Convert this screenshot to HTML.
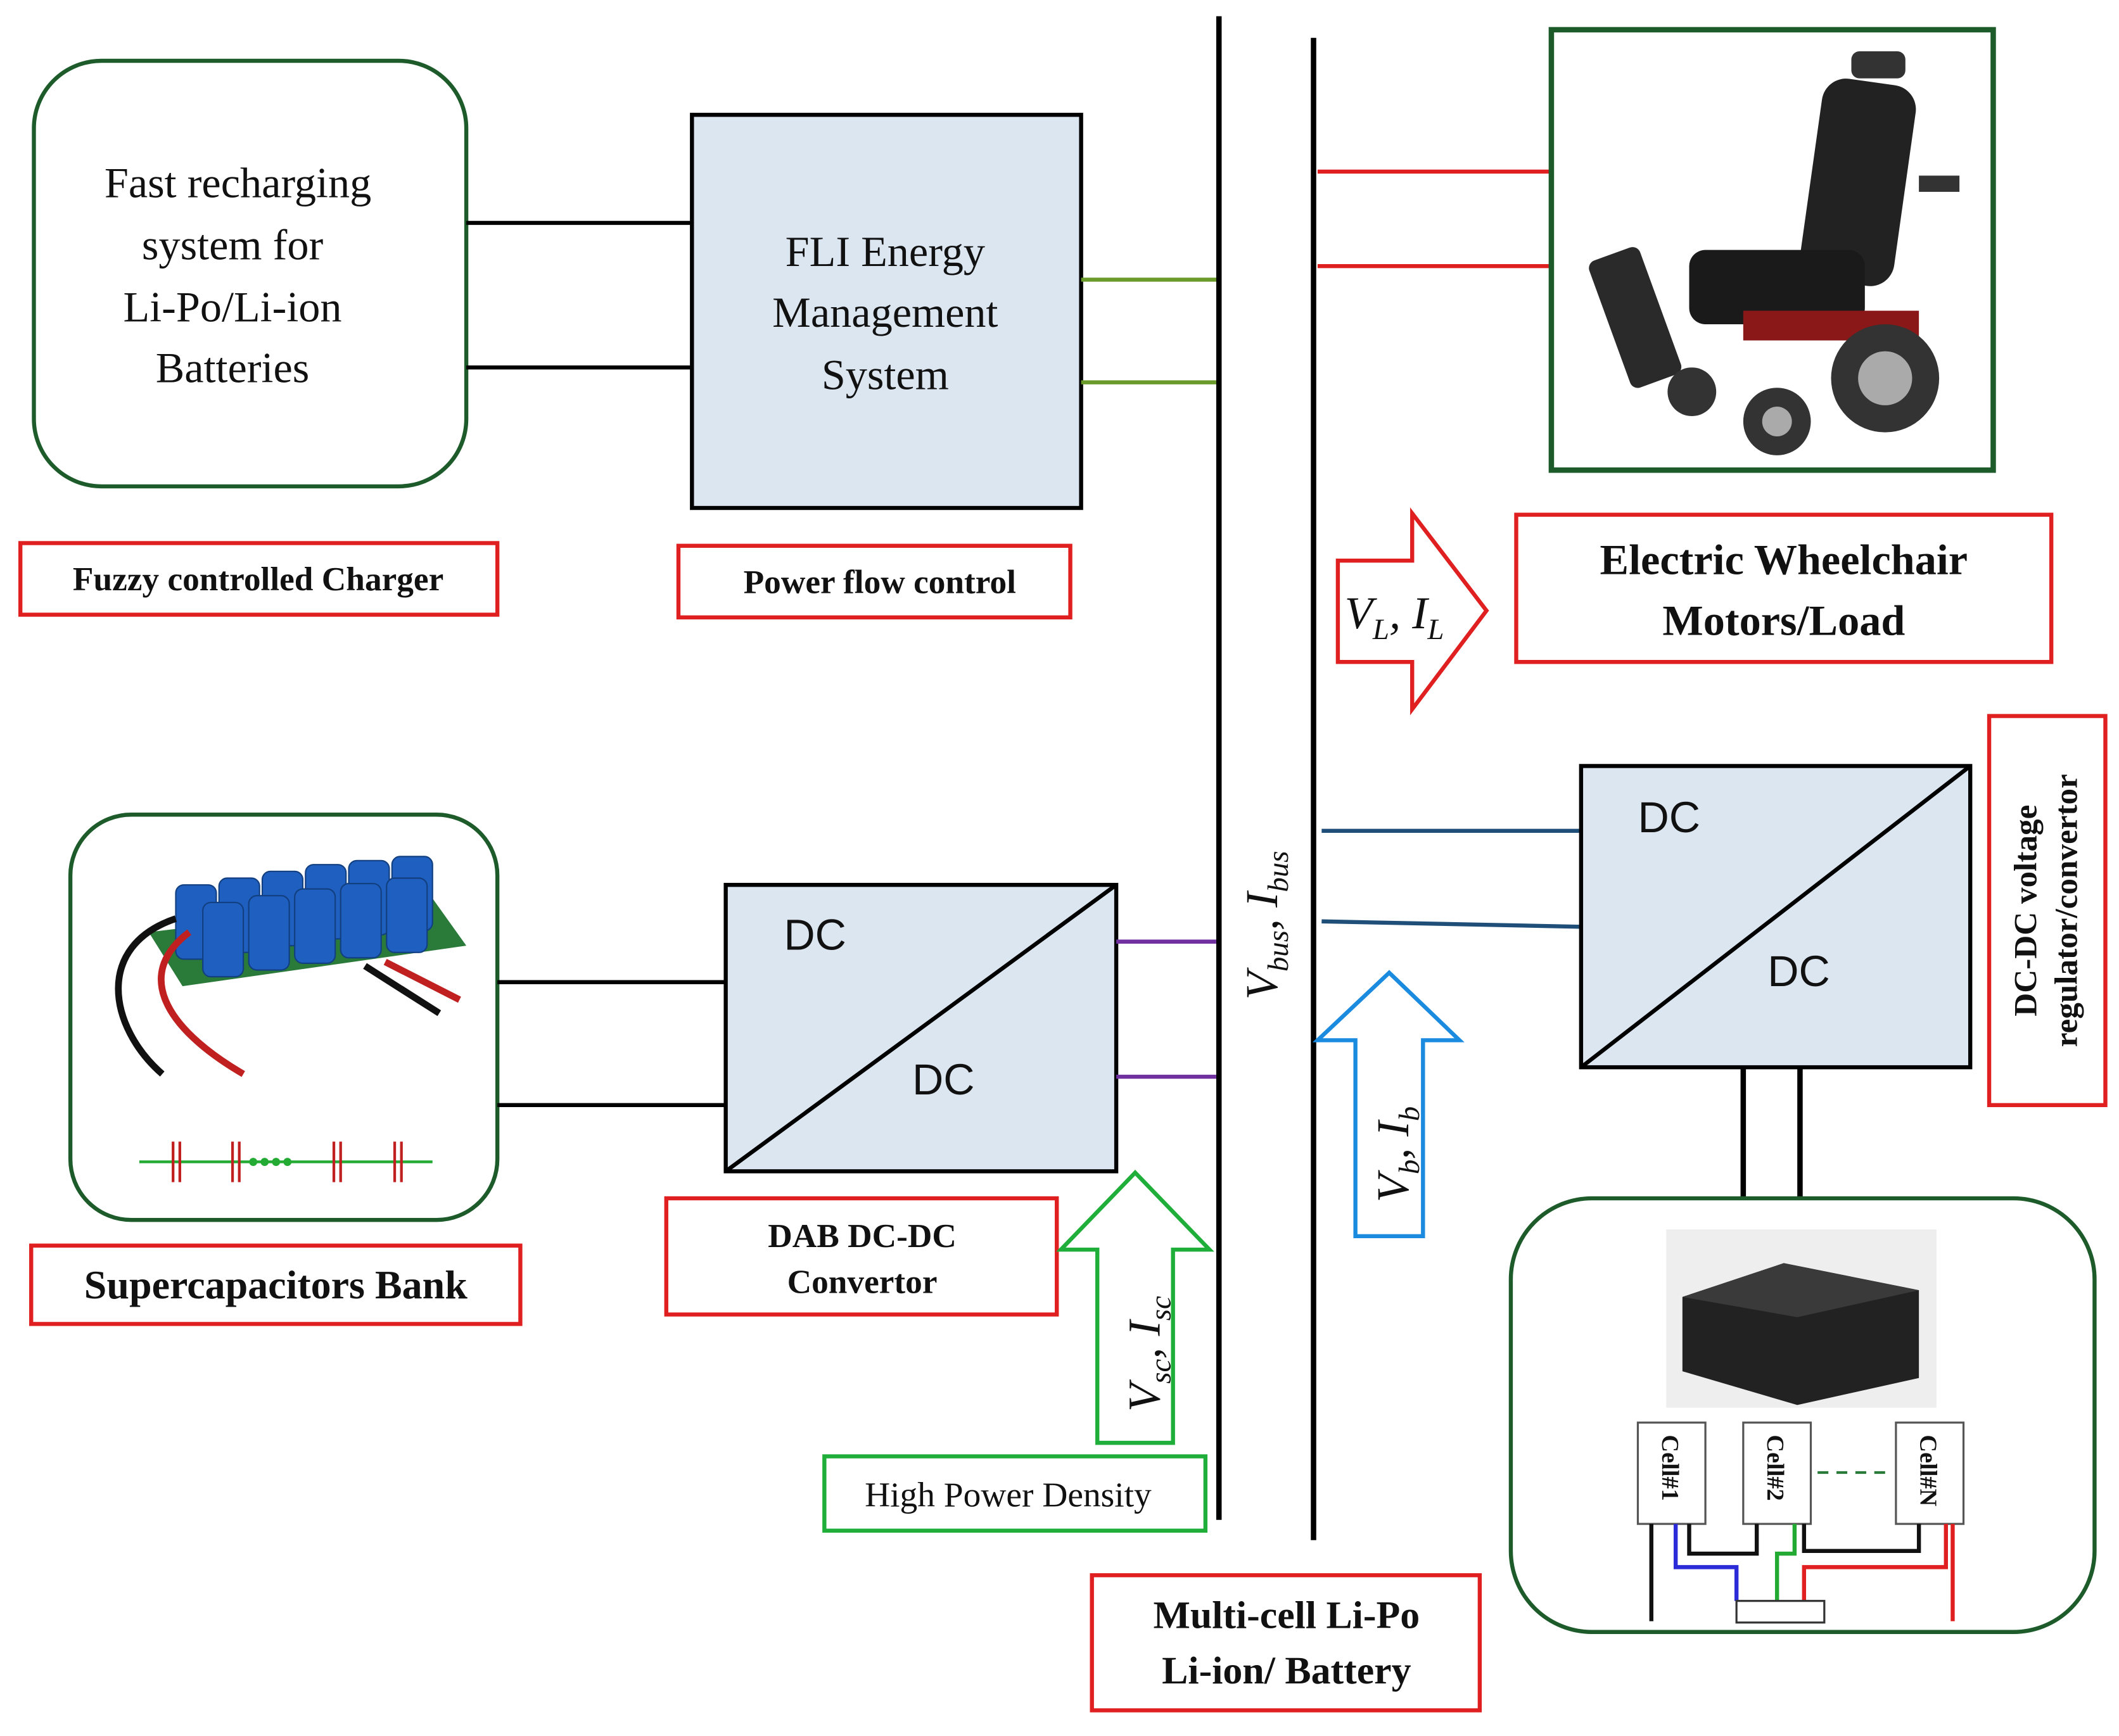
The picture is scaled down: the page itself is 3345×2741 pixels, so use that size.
<!DOCTYPE html>
<html><head><meta charset="utf-8"><style>
html,body{margin:0;padding:0;background:#fff;}
svg{display:block;}
</style></head><body>
<svg width="3345" height="2741" viewBox="0 0 1568 1285" xmlns="http://www.w3.org/2000/svg" font-family="Liberation Serif, serif">
<rect width="1568" height="1285" fill="#fff"/>
<!-- Box 1 -->
<rect x="25" y="45" width="320" height="315" rx="50" fill="#fff" stroke="#1d5b2b" stroke-width="3"/>
<g font-size="32" text-anchor="middle" fill="#111">
<text x="176" y="146">Fast recharging</text>
<text x="172" y="192">system for</text>
<text x="172" y="238">Li-Po/Li-ion</text>
<text x="172" y="283">Batteries</text>
</g>
<line x1="345" y1="165" x2="512" y2="165" stroke="#000" stroke-width="3"/>
<line x1="345" y1="272" x2="512" y2="272" stroke="#000" stroke-width="3"/>
<rect x="512" y="85" width="288" height="291" fill="#dce6f1" stroke="#000" stroke-width="3"/>
<g font-size="32" text-anchor="middle" fill="#111">
<text x="655" y="197">FLI Energy</text>
<text x="655" y="242">Management</text>
<text x="655" y="288">System</text>
</g>
<line x1="800" y1="207" x2="900" y2="207" stroke="#6a9a2a" stroke-width="3"/>
<line x1="800" y1="283" x2="900" y2="283" stroke="#6a9a2a" stroke-width="3"/>
<!-- bus -->
<line x1="902" y1="12" x2="902" y2="1125" stroke="#000" stroke-width="4"/>
<line x1="972" y1="28" x2="972" y2="1140" stroke="#000" stroke-width="4"/>
<line x1="975" y1="127" x2="1148" y2="127" stroke="#e02020" stroke-width="3"/>
<line x1="975" y1="197" x2="1148" y2="197" stroke="#e02020" stroke-width="3"/>
<!-- wheelchair box -->
<rect x="1148" y="22" width="327" height="326" fill="#fff" stroke="#1d5b2b" stroke-width="4"/>
<g>
<rect x="1340" y="60" width="70" height="150" rx="18" fill="#222" transform="rotate(8 1375 135)"/>
<rect x="1370" y="38" width="40" height="20" rx="6" fill="#333"/>
<rect x="1250" y="185" width="130" height="55" rx="12" fill="#1a1a1a"/>
<rect x="1190" y="185" width="40" height="100" rx="6" fill="#2a2a2a" transform="rotate(-20 1210 235)"/>
<rect x="1290" y="230" width="130" height="22" fill="#8a1818"/>
<circle cx="1395" cy="280" r="40" fill="#333"/><circle cx="1395" cy="280" r="20" fill="#aaa"/>
<circle cx="1315" cy="312" r="25" fill="#333"/><circle cx="1315" cy="312" r="11" fill="#aaa"/>
<circle cx="1252" cy="290" r="18" fill="#333"/>
<rect x="1420" y="130" width="30" height="12" fill="#333"/>
</g>
<!-- red labels -->
<g font-size="25" font-weight="bold" fill="#111" text-anchor="middle">
<rect x="15" y="402" width="353" height="53" fill="#fff" stroke="#e02020" stroke-width="3"/>
<text x="191" y="437">Fuzzy controlled Charger</text>
<rect x="502" y="404" width="290" height="53" fill="#fff" stroke="#e02020" stroke-width="3"/>
<text x="651" y="439">Power flow control</text>
<rect x="1122" y="381" width="396" height="109" fill="#fff" stroke="#e02020" stroke-width="3"/>
<text x="1320" y="425" font-size="32">Electric Wheelchair</text>
<text x="1320" y="470" font-size="32">Motors/Load</text>
<rect x="23" y="922" width="362" height="58" fill="#fff" stroke="#e02020" stroke-width="3"/>
<text x="204" y="961" font-size="30">Supercapacitors Bank</text>
<rect x="493" y="887" width="289" height="86" fill="#fff" stroke="#e02020" stroke-width="3"/>
<text x="638" y="923">DAB  DC-DC</text>
<text x="638" y="957">Convertor</text>
<rect x="808" y="1166" width="287" height="100" fill="#fff" stroke="#e02020" stroke-width="3"/>
<text x="952" y="1205" font-size="29">Multi-cell Li-Po</text>
<text x="952" y="1246" font-size="29">Li-ion/ Battery</text>
<rect x="1472" y="530" width="86" height="288" fill="#fff" stroke="#e02020" stroke-width="3"/>
<g transform="translate(1515 674) rotate(-90)"><text x="0" y="-8" font-size="24">DC-DC voltage</text><text x="0" y="22" font-size="24">regulator/convertor</text></g>
</g>
<rect x="610" y="1078" width="282" height="55" fill="#fff" stroke="#1fae3a" stroke-width="3"/>
<text x="746" y="1115" font-size="26" text-anchor="middle" fill="#111">High Power Density</text>
<!-- red arrow -->
<path d="M990 415 H1045 V380 L1100 452 L1045 525 V490 H990 Z" fill="#fff" stroke="#e02020" stroke-width="3"/>
<text x="995" y="465" font-size="34" font-style="italic" fill="#111">V<tspan font-size="22" dy="8">L</tspan><tspan dy="-8">, I</tspan><tspan font-size="22" dy="8">L</tspan></text>
<!-- right DC-DC -->
<line x1="978" y1="615" x2="1170" y2="615" stroke="#1f4e79" stroke-width="3"/>
<line x1="978" y1="682" x2="1170" y2="686" stroke="#1f4e79" stroke-width="3"/>
<rect x="1170" y="567" width="288" height="223" fill="#dce6f1" stroke="#000" stroke-width="3"/>
<line x1="1170" y1="790" x2="1458" y2="567" stroke="#000" stroke-width="3"/>
<g font-family="Liberation Sans, sans-serif" font-size="32" fill="#111">
<text x="1212" y="616">DC</text><text x="1308" y="730">DC</text>
</g>
<line x1="1290" y1="790" x2="1290" y2="887" stroke="#000" stroke-width="4"/>
<line x1="1332" y1="790" x2="1332" y2="887" stroke="#000" stroke-width="4"/>
<!-- blue arrow -->
<path d="M1003 915 V770 H975 L1028 720 L1080 770 H1053 V915 Z" fill="#fff" stroke="#1b8be0" stroke-width="3"/>
<text transform="translate(1042 890) rotate(-90)" font-size="34" font-style="italic" fill="#111">V<tspan font-size="22" dy="8">b</tspan><tspan dy="-8">, I</tspan><tspan font-size="22" dy="8">b</tspan></text>
<text transform="translate(945 740) rotate(-90)" font-size="34" font-style="italic" fill="#111">V<tspan font-size="22" dy="8">bus</tspan><tspan dy="-8">, I</tspan><tspan font-size="22" dy="8">bus</tspan></text>
<!-- battery box -->
<rect x="1118" y="887" width="432" height="321" rx="60" fill="#fff" stroke="#1d5b2b" stroke-width="3"/>
<rect x="1233" y="910" width="200" height="132" fill="#eee"/>
<path d="M1245 960 L1320 935 L1420 955 L1420 1020 L1330 1040 L1245 1015 Z" fill="#222"/>
<path d="M1245 960 L1320 935 L1420 955 L1330 975 Z" fill="#3a3a3a"/>
<g fill="#fff" stroke="#555" stroke-width="1.5">
<rect x="1212" y="1053" width="50" height="75"/><rect x="1290" y="1053" width="50" height="75"/><rect x="1403" y="1053" width="50" height="75"/>
</g>
<g font-size="18" font-weight="bold" fill="#111">
<text transform="translate(1230 1062) rotate(90)">Cell#1</text>
<text transform="translate(1308 1062) rotate(90)">Cell#2</text>
<text transform="translate(1421 1062) rotate(90)">Cell#N</text>
</g>
<line x1="1345" y1="1090" x2="1400" y2="1090" stroke="#2a7a3a" stroke-width="2" stroke-dasharray="8 6"/>
<path d="M1222 1128 V1200" stroke="#111" stroke-width="3" fill="none"/>
<path d="M1240 1128 V1160 H1285 V1185" stroke="#2b2bd8" stroke-width="3" fill="none"/>
<path d="M1250 1128 V1150 H1300 V1128" stroke="#111" stroke-width="3" fill="none"/>
<path d="M1328 1128 V1150 H1315 V1185" stroke="#22aa33" stroke-width="3" fill="none"/>
<path d="M1335 1128 V1148 H1420 V1128" stroke="#111" stroke-width="3" fill="none"/>
<path d="M1440 1128 V1160 H1335 V1185" stroke="#e02020" stroke-width="3" fill="none"/>
<path d="M1445 1128 V1200" stroke="#e02020" stroke-width="3" fill="none"/>
<rect x="1285" y="1185" width="65" height="16" fill="#fff" stroke="#333" stroke-width="1.5"/>
<!-- supercap box -->
<rect x="52" y="603" width="316" height="300" rx="45" fill="#fff" stroke="#1d5b2b" stroke-width="3"/>
<path d="M110 690 L320 665 L345 700 L135 730 Z" fill="#2a7a3a"/>
<g fill="#1f5fbf" stroke="#123f80" stroke-width="1">
<rect x="130" y="655" width="30" height="55" rx="6"/><rect x="162" y="650" width="30" height="55" rx="6"/><rect x="194" y="645" width="30" height="55" rx="6"/><rect x="226" y="640" width="30" height="55" rx="6"/><rect x="258" y="637" width="30" height="55" rx="6"/><rect x="290" y="634" width="30" height="55" rx="6"/>
<rect x="150" y="668" width="30" height="55" rx="6"/><rect x="184" y="663" width="30" height="55" rx="6"/><rect x="218" y="658" width="30" height="55" rx="6"/><rect x="252" y="654" width="30" height="55" rx="6"/><rect x="286" y="650" width="30" height="55" rx="6"/>
</g>
<path d="M130 680 C70 700 80 760 120 795" stroke="#111" stroke-width="5" fill="none"/>
<path d="M140 690 C100 720 120 760 180 795" stroke="#c02020" stroke-width="5" fill="none"/>
<path d="M270 715 L325 750" stroke="#111" stroke-width="5"/>
<path d="M285 712 L340 740" stroke="#c02020" stroke-width="5"/>
<g stroke="#22aa33" stroke-width="2"><line x1="103" y1="860" x2="320" y2="860"/></g>
<g stroke="#c02020" stroke-width="2">
<line x1="128" y1="845" x2="128" y2="875"/><line x1="133" y1="845" x2="133" y2="875"/>
<line x1="172" y1="845" x2="172" y2="875"/><line x1="177" y1="845" x2="177" y2="875"/>
<line x1="247" y1="845" x2="247" y2="875"/><line x1="252" y1="845" x2="252" y2="875"/>
<line x1="292" y1="845" x2="292" y2="875"/><line x1="297" y1="845" x2="297" y2="875"/>
</g>
<text x="200" y="864" font-size="14" fill="#22aa33" text-anchor="middle">●●●●</text>
<line x1="368" y1="727" x2="537" y2="727" stroke="#000" stroke-width="3"/>
<line x1="368" y1="818" x2="537" y2="818" stroke="#000" stroke-width="3"/>
<!-- DAB -->
<rect x="537" y="655" width="289" height="212" fill="#dce6f1" stroke="#000" stroke-width="3"/>
<line x1="537" y1="867" x2="826" y2="655" stroke="#000" stroke-width="3"/>
<g font-family="Liberation Sans, sans-serif" font-size="32" fill="#111">
<text x="580" y="703">DC</text><text x="675" y="810">DC</text>
</g>
<line x1="826" y1="697" x2="900" y2="697" stroke="#7030a0" stroke-width="3"/>
<line x1="826" y1="797" x2="900" y2="797" stroke="#7030a0" stroke-width="3"/>
<!-- green arrow -->
<path d="M812 1068 V925 H785 L840 868 L895 925 H868 V1068 Z" fill="#fff" stroke="#1fae3a" stroke-width="3"/>
<text transform="translate(858 1045) rotate(-90)" font-size="34" font-style="italic" fill="#111">V<tspan font-size="22" dy="8">sc</tspan><tspan dy="-8">, I</tspan><tspan font-size="22" dy="8">sc</tspan></text>
</svg>
</body></html>
